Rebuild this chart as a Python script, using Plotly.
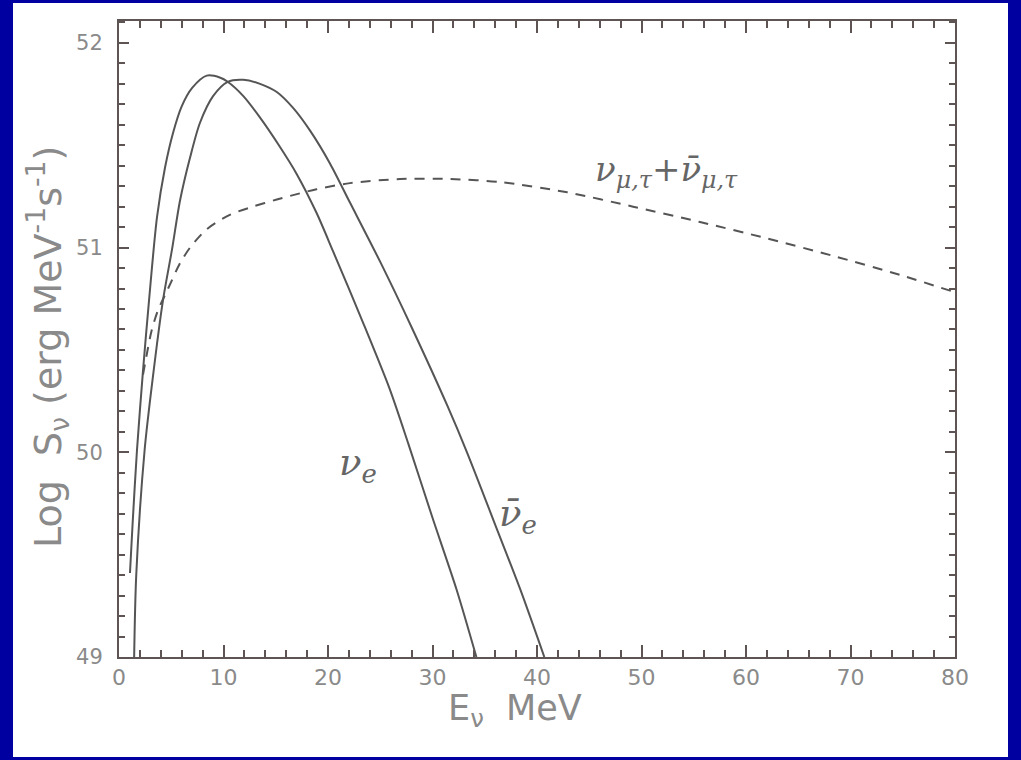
import plotly.graph_objects as go

# nu_e
nue_x = [1.05, 1.3, 1.72, 2.3, 2.87, 3.64, 4.4, 5.17, 6.0, 7.0, 8.4, 9.7, 10.4, 11.9, 13.5,
         15.3, 17.0, 18.9, 20.5, 23.3, 25.9, 27.7, 30.0, 32.3, 34.2]
nue_y = [49.41, 49.65, 50.01, 50.40, 50.74, 51.15, 51.39, 51.56, 51.69, 51.78, 51.84, 51.83,
         51.81, 51.74, 51.635, 51.50, 51.36, 51.17, 50.98, 50.64, 50.31, 50.04, 49.68, 49.33, 49.0]

# anti nu_e
anue_x = [1.45, 1.65, 2.45, 3.2, 4.2, 5.07, 5.84, 6.8, 7.75, 9.0, 10.4, 11.9, 13.5, 15.1, 16.7,
          18.3, 20.2, 22.1, 25.0, 28.1, 31.4, 33.3, 36.2, 38.4, 40.7]
anue_y = [49.0, 49.4, 50.01, 50.35, 50.74, 50.99, 51.23, 51.44, 51.61, 51.74, 51.81, 51.82, 51.80,
          51.76, 51.68, 51.57, 51.41, 51.22, 50.93, 50.60, 50.23, 50.00, 49.62, 49.33, 49.0]

# nu_mu,tau + anti
numu_x = [2.3, 2.7, 3.1, 3.7, 4.7, 5.8, 6.8, 8.4, 10.6, 12.8, 15.1, 17.3, 18.9, 22.1, 26.9,
          31.7, 36.5, 42.9, 49.2, 55.6, 62.0, 68.3, 74.7, 80.0]
numu_y = [50.38, 50.49, 50.59, 50.69, 50.80, 50.92, 51.00, 51.09, 51.16, 51.20, 51.235, 51.265,
          51.285, 51.315, 51.335, 51.335, 51.32, 51.27, 51.20, 51.125, 51.045, 50.96, 50.867, 50.782]

x_ticks = [0, 10, 20, 30, 40, 50, 60, 70, 80]
y_ticks = [49, 50, 51, 52]

LINE = "#555555"
AXIS = "#5e5454"
TXT = "#8a8a8a"
BLUE = "#0000a0"
SANS = "DejaVu Sans"
SERIF = "DejaVu Serif"

fig = go.Figure()
fig.add_trace(go.Scatter(x=nue_x, y=nue_y, mode="lines",
                         line=dict(color=LINE, width=2, shape="spline", smoothing=0.8)))
fig.add_trace(go.Scatter(x=anue_x, y=anue_y, mode="lines",
                         line=dict(color=LINE, width=2, shape="spline", smoothing=0.8)))
fig.add_trace(go.Scatter(x=numu_x, y=numu_y, mode="lines",
                         line=dict(color=LINE, width=2, dash="10px,8px", shape="spline", smoothing=0.8)))

W, H = 1021, 760
L, R, T, B = 119, 66, 21, 103
pw, ph = W - L - R, H - T - B

def px(x):
    return (x - L) / pw

def py(y):
    return (H - B - y) / ph

fig.add_shape(type="rect", xref="paper", yref="paper", layer="below",
              x0=px(13), x1=px(1008), y0=py(757), y1=py(3),
              fillcolor="white", line=dict(width=0))

fig.add_annotation(x=52.4, y=51.37, xref="x", yref="y", showarrow=False,
                   text="<i>ν</i><sub><i>μ,τ</i></sub>+<i>ν̄</i><sub><i>μ,τ</i></sub>",
                   font=dict(family=SERIF, size=34, color="#666666"))
fig.add_annotation(x=22.9, y=49.94, xref="x", yref="y", showarrow=False,
                   text="<i>ν</i><sub><i>e</i></sub>",
                   font=dict(family=SERIF, size=37, color="#666666"))
fig.add_annotation(x=38.2, y=49.69, xref="x", yref="y", showarrow=False,
                   text="<i>ν̄</i><sub><i>e</i></sub>",
                   font=dict(family=SERIF, size=37, color="#666666"))

# axis titles
fig.add_annotation(x=px(515), y=py(710), xref="paper", yref="paper", showarrow=False,
                   xanchor="center", yanchor="middle",
                   text="E<sub>ν</sub>  MeV", font=dict(family=SANS, size=35, color=TXT))
fig.add_annotation(x=px(47), y=py(347), xref="paper", yref="paper", showarrow=False,
                   xanchor="center", yanchor="middle", textangle=-90,
                   text="Log  S<sub>ν</sub> (erg MeV<sup>-1</sup>s<sup>-1</sup>)",
                   font=dict(family=SANS, size=38, color=TXT))

fig.update_layout(
    width=W, height=H,
    margin=dict(l=L, r=R, t=T, b=B, pad=0),
    paper_bgcolor=BLUE, plot_bgcolor="white",
    showlegend=False,
    font=dict(family=SANS, color=TXT),
)
fig.update_xaxes(
    range=[0, 80], tickvals=x_ticks, ticktext=[str(v) for v in x_ticks],
    showgrid=False, zeroline=False, showline=True, linecolor=AXIS, linewidth=2,
    mirror="allticks", ticks="inside", ticklen=12, tickwidth=2, tickcolor=AXIS,
    minor=dict(dtick=2, ticks="inside", ticklen=7, tickwidth=2, tickcolor=AXIS, showgrid=False),
    tickfont=dict(family=SANS, size=22, color=TXT), ticklabelstandoff=0,
)
fig.update_yaxes(
    range=[49, 52.107], tickvals=y_ticks, ticktext=[str(v) for v in y_ticks],
    showgrid=False, zeroline=False, showline=True, linecolor=AXIS, linewidth=2,
    mirror="allticks", ticks="inside", ticklen=10, tickwidth=2, tickcolor=AXIS,
    minor=dict(dtick=0.1, ticks="inside", ticklen=6, tickwidth=2, tickcolor=AXIS, showgrid=False),
    tickfont=dict(family=SANS, size=21, color=TXT), ticklabelstandoff=10,
)

fig.write_html("out.html")
